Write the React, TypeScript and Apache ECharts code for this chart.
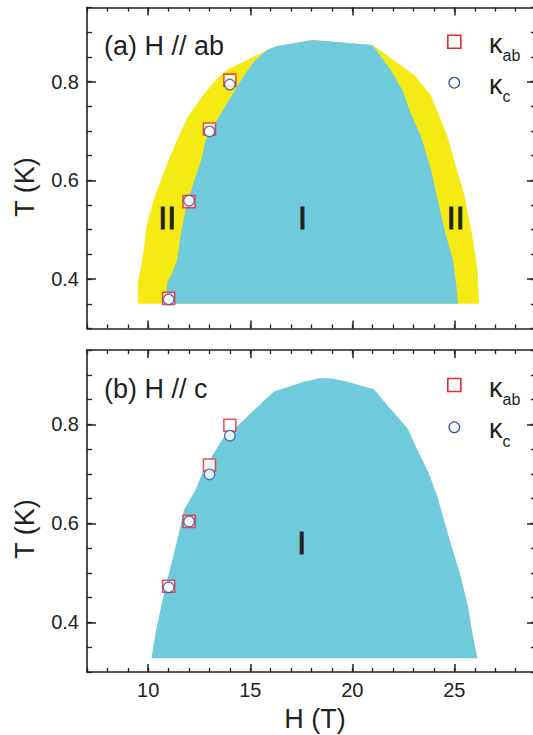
import React, { useEffect, useRef } from "react";
import * as echarts from "echarts";

const H_MIN = 7;
const H_MAX = 29;
const T_MIN = 0.3;
const T_MAX = 0.95;
const H_LABELS = [10, 15, 20, 25];
const T_LABELS = [0.4, 0.6, 0.8];

// Panel (a) H // ab : outer boundary of phase II (yellow)
const abOuter: number[][] = [
  [9.49, 0.35], [9.49, 0.392], [9.71, 0.439], [9.92, 0.507], [10.27, 0.561],
  [10.69, 0.608], [11.01, 0.642], [11.42, 0.682], [11.94, 0.729], [12.24, 0.746],
  [12.65, 0.77], [13.3, 0.803], [13.87, 0.824], [14.52, 0.837], [15.34, 0.854],
  [16.08, 0.869], [18.04, 0.884], [20.98, 0.874], [23.02, 0.814], [23.84, 0.773],
  [24.66, 0.689], [24.98, 0.642], [25.47, 0.574], [25.88, 0.487], [26.13, 0.419],
  [26.21, 0.35],
];
// Panel (a): phase I (blue)
const abInner: number[][] = [
  [10.85, 0.35], [10.93, 0.392], [11.18, 0.413], [11.42, 0.439], [11.58, 0.487],
  [11.83, 0.541], [12.07, 0.575], [12.32, 0.608], [12.61, 0.642], [12.81, 0.682],
  [13.38, 0.723], [13.87, 0.756], [14.36, 0.79], [14.77, 0.817], [15.26, 0.844],
  [15.83, 0.864], [16.32, 0.872], [18.04, 0.884], [20.98, 0.874], [21.88, 0.824],
  [22.45, 0.783], [22.86, 0.736], [23.37, 0.689], [23.86, 0.621], [24.11, 0.574],
  [24.6, 0.487], [24.93, 0.439], [25.1, 0.385], [25.18, 0.35],
];
// Panel (b) H // c : phase I (blue)
const cInner: number[][] = [
  [10.16, 0.328], [10.36, 0.379], [10.6, 0.426], [10.85, 0.473], [11.18, 0.526],
  [11.5, 0.58], [11.75, 0.627], [12.32, 0.668], [12.72, 0.708], [13.22, 0.742],
  [13.71, 0.775], [14.52, 0.802], [15.26, 0.832], [16.16, 0.866], [17.63, 0.886],
  [18.36, 0.893], [18.94, 0.893], [19.75, 0.886], [21.06, 0.871], [21.79, 0.835],
  [22.7, 0.792], [23.19, 0.748], [23.75, 0.701], [24.17, 0.654], [24.49, 0.607],
  [24.82, 0.56], [25.31, 0.493], [25.67, 0.432], [25.88, 0.379], [26.13, 0.328],
];

const abKab: number[][] = [[11, 0.361], [12, 0.557], [13, 0.704], [14, 0.803]];
const abKc: number[][] = [[11, 0.359], [12, 0.559], [13, 0.699], [14, 0.794]];
const cKab: number[][] = [[11, 0.473], [12, 0.604], [13, 0.718], [14, 0.798]];
const cKc: number[][] = [[11, 0.471], [12, 0.604], [13, 0.699], [14, 0.777]];

const FONT = "'Liberation Sans', Arial, Helvetica, sans-serif";
const INK = "#231f20";
const BLUE_FILL = "#6fcbdc";
const YELLOW_FILL = "#f5ea14";
const RED = "#e8262c";
const NAVY = "#3a54a6";

function xAxes(grid: number, showLabels: boolean) {
  const common = { type: "value", gridIndex: grid, min: H_MIN, max: H_MAX, splitLine: { show: false } };
  const major = (position: string, labels: boolean) => ({
    ...common,
    position,
    interval: 1,
    axisLine: { show: true, lineStyle: { color: INK, width: 1.6 } },
    axisTick: { show: true, inside: true, length: 8, customValues: H_LABELS, lineStyle: { color: INK, width: 1.5 } },
    axisLabel: labels
      ? { show: true, customValues: H_LABELS, fontSize: 20, fontFamily: FONT, color: INK, margin: 8 }
      : { show: false },
  });
  const minor = (position: string) => ({
    ...common,
    position,
    interval: 1,
    axisLine: { show: false },
    axisTick: { show: true, inside: true, length: 4, lineStyle: { color: INK, width: 1.3 } },
    axisLabel: { show: false },
  });
  return [major("bottom", showLabels), minor("bottom"), major("top", false), minor("top")];
}

function yAxes(grid: number) {
  const common = { type: "value", gridIndex: grid, min: T_MIN, max: T_MAX, splitLine: { show: false } };
  const major = (position: string, labels: boolean) => ({
    ...common,
    position,
    interval: 0.05,
    axisLine: { show: true, lineStyle: { color: INK, width: 1.6 } },
    axisTick: { show: true, inside: true, length: 9, customValues: T_LABELS, lineStyle: { color: INK, width: 1.5 } },
    axisLabel: labels
      ? {
          show: true,
          customValues: T_LABELS,
          fontSize: 20,
          fontFamily: FONT,
          color: INK,
          margin: 8,
          formatter: (v: number) => v.toFixed(1),
        }
      : { show: false },
  });
  const minor = (position: string) => ({
    ...common,
    position,
    interval: 0.05,
    axisLine: { show: false },
    axisTick: { show: true, inside: true, length: 5, lineStyle: { color: INK, width: 1.3 } },
    axisLabel: { show: false },
  });
  return [major("left", true), minor("left"), major("right", false), minor("right")];
}

function polySeries(data: number[][], axisIndex: number, color: string, z: number) {
  return {
    type: "custom",
    xAxisIndex: axisIndex,
    yAxisIndex: axisIndex,
    data,
    z,
    silent: true,
    encode: { x: 0, y: 1 },
    renderItem: (params: any, api: any) => {
      if (params.dataIndex !== 0) return null;
      const points = data.map((p) => api.coord(p));
      return { type: "polygon", shape: { points }, style: { fill: color } };
    },
  };
}

function squareSeries(data: number[][], axisIndex: number) {
  return {
    type: "scatter",
    xAxisIndex: axisIndex,
    yAxisIndex: axisIndex,
    data,
    z: 5,
    symbol: "rect",
    symbolSize: 12,
    itemStyle: { color: "#ffffff", borderColor: RED, borderWidth: 1.6 },
  };
}

function circleSeries(data: number[][], axisIndex: number) {
  return {
    type: "scatter",
    xAxisIndex: axisIndex,
    yAxisIndex: axisIndex,
    data,
    z: 6,
    symbol: "circle",
    symbolSize: 10.5,
    itemStyle: { color: "#ffffff", borderColor: NAVY, borderWidth: 1.3 },
  };
}

function txt(text: string, x: number, y: number, size: number, align = "left", rotation = 0, heavy = false) {
  return {
    type: "text",
    x,
    y,
    rotation,
    z: 20,
    style: {
      text,
      fontSize: size,
      fontFamily: FONT,
      fill: INK,
      align,
      verticalAlign: "middle",
      ...(heavy ? { stroke: INK, lineWidth: 0.9 } : {}),
    },
  };
}

function legend(ySq: number, yCi: number) {
  return [
    {
      type: "rect",
      z: 20,
      shape: { x: 454.3 - 6.5, y: ySq - 6.5, width: 13, height: 13 },
      style: { fill: "#ffffff", stroke: RED, lineWidth: 1.6 },
    },
    {
      type: "circle",
      z: 20,
      shape: { cx: 454.3, cy: yCi, r: 5.3 },
      style: { fill: "#ffffff", stroke: NAVY, lineWidth: 1.3 },
    },
    txt("κ", 489, ySq + 2.5, 27),
    txt("ab", 502.5, ySq + 14, 16),
    txt("κ", 489, yCi + 2, 27),
    txt("c", 502.5, yCi + 14, 16),
  ];
}

export default function App() {
  const ref = useRef<HTMLDivElement>(null);
  useEffect(() => {
    if (!ref.current) return;
    const chart = echarts.init(ref.current, undefined, { renderer: "svg" });
    chart.setOption({
      animation: false,
      backgroundColor: "#ffffff",
      grid: [
        { left: 87, top: 7.5, width: 449, height: 321, outerBoundsMode: "none" },
        { left: 87, top: 350, width: 449, height: 322, outerBoundsMode: "none" },
      ],
      xAxis: [...xAxes(0, false), ...xAxes(1, true)],
      yAxis: [...yAxes(0), ...yAxes(1)],
      series: [
        polySeries(abOuter, 0, YELLOW_FILL, 1),
        polySeries(abInner, 0, BLUE_FILL, 2),
        polySeries(cInner, 4, BLUE_FILL, 2),
        squareSeries(abKab, 0),
        circleSeries(abKc, 0),
        squareSeries(cKab, 4),
        circleSeries(cKc, 4),
      ],
      graphic: [
        txt("(a) H // ab", 104, 45.5, 27),
        txt("(b) H // c", 104, 388.5, 27),
        txt("II", 167.2, 218.3, 32, "center", 0, true),
        txt("I", 302.5, 218.3, 32, "center", 0, true),
        txt("II", 455.7, 218.3, 32, "center", 0, true),
        txt("I", 301.8, 543.3, 32, "center", 0, true),
        ...legend(41.7, 82.7),
        ...legend(385, 427.3),
        txt("H (T)", 315, 719, 27, "center"),
        txt("T (K)", 25, 187, 27, "center", Math.PI / 2),
        txt("T (K)", 25, 529, 27, "center", Math.PI / 2),
      ],
    });
    return () => chart.dispose();
  }, []);
  return (
    <div style={{ position: "absolute", left: 0, top: 0, width: 533, height: 735, overflow: "hidden", background: "#fff" }}>
      <div ref={ref} style={{ position: "absolute", left: 0, top: 0, width: 540, height: 735 }} />
    </div>
  );
}
